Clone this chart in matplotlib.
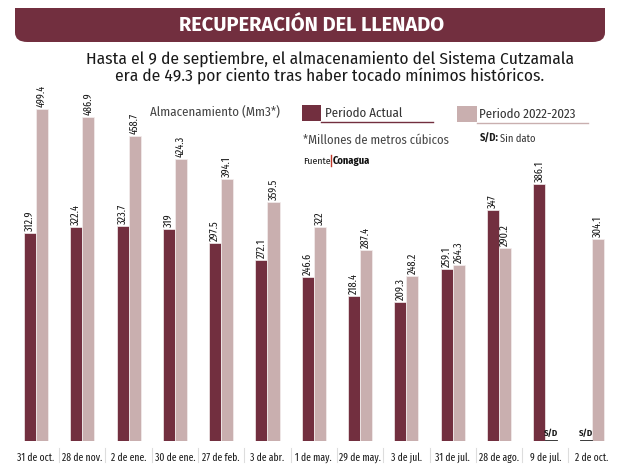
import matplotlib.pyplot as plt
import numpy as np
from matplotlib.patches import FancyBboxPatch, Rectangle
from matplotlib.lines import Line2D

fechas = ["31 de oct.", "28 de nov.", "2 de ene.", "30 de ene.", "27 de feb.",
          "3 de abr.", "1 de may.", "29 de may.", "3 de jul.", "31 de jul.",
          "28 de ago.", "9 de jul.", "2 de oct."]
actual = [312.9, 322.4, 323.7, 319, 297.5, 272.1, 246.6, 218.4, 209.3, 259.1,
          347, 386.1, None]
anterior = [499.4, 486.9, 458.7, 424.3, 394.1, 359.5, 322, 287.4, 248.2, 264.3,
            290.2, None, 304.1]

DARK = "#722f3f"
LIGHT = "#c9afaf"
FIRA = ["Fira Sans", "DejaVu Sans"]
COND = ["Fira Sans Condensed", "DejaVu Sans"]
XCOND = ["Fira Sans Extra Condensed", "DejaVu Sans"]


def fmt(v):
    return f"{v:g}"


def main():
    fig = plt.figure(figsize=(6.2, 4.72), dpi=100)
    W, H = 620, 472

    # header band (square top, rounded bottom)
    fig.patches.append(FancyBboxPatch((15 / W, 1 - 42 / H), 590 / W, 34 / H,
                                      boxstyle="round,pad=0,rounding_size=0.02",
                                      transform=fig.transFigure, fc=DARK, ec="none"))
    fig.patches.append(Rectangle((15 / W, 1 - 25 / H), 590 / W, 17 / H,
                                 transform=fig.transFigure, fc=DARK, ec="none"))
    fig.text(0.503, 1 - 25 / H, "RECUPERACIÓN DEL LLENADO", color="white",
             fontsize=14.5, fontweight="bold", ha="center", va="center", family=FIRA)

    fig.text(0.532, 1 - 67 / H,
             "Hasta el 9 de septiembre, el almacenamiento del Sistema Cutzamala\n"
             "era de 49.3 por ciento tras haber tocado mínimos históricos.",
             ha="center", va="center", fontsize=12.5, family=COND, linespacing=1.0,
             color="#1a1a1a")

    ax = fig.add_axes([12.8 / W, 1 - 441 / H, 602 / W, 345.8 / H])
    x = np.arange(len(fechas))
    w = 0.26
    for i in x:
        if actual[i] is not None:
            ax.bar(i - w / 2, actual[i], w, color=DARK, edgecolor="#f4eeee", lw=0.5)
            ax.text(i - w / 2, actual[i] + 3, fmt(actual[i]), rotation=90,
                    ha="center", va="bottom", fontsize=8, family=XCOND, color="#1a1a1a")
        else:
            ax.text(i - w / 2, 4, "S/D", ha="center", va="bottom", fontsize=6.5,
                    fontweight="bold", family=COND, color="#1a1a1a")
            ax.plot([i - w, i], [2, 2], color="#1a1a1a", lw=0.6)
        if anterior[i] is not None:
            ax.bar(i + w / 2, anterior[i], w, color=LIGHT, edgecolor="#f4eeee", lw=0.5)
            ax.text(i + w / 2, anterior[i] + 3, fmt(anterior[i]), rotation=90,
                    ha="center", va="bottom", fontsize=8, family=XCOND, color="#1a1a1a")
        else:
            ax.text(i + w / 2, 4, "S/D", ha="center", va="bottom", fontsize=6.5,
                    fontweight="bold", family=COND, color="#1a1a1a")
            ax.plot([i, i + w], [2, 2], color="#1a1a1a", lw=0.6)

    ax.set_xlim(-0.5, len(fechas) - 0.5)
    ax.set_ylim(0, 520)
    ax.set_xticks(x)
    ax.set_xticklabels(fechas, fontsize=7.5, family=XCOND, color="#1a1a1a")
    ax.tick_params(axis="x", length=0, pad=8)
    ax.set_yticks([])
    for s in ax.spines.values():
        s.set_visible(False)
    # separators between date labels
    for i in x[1:]:
        ax.add_line(Line2D([i - 0.5, i - 0.5], [-0.02, -0.062], color="#dddddd", lw=0.8,
                           transform=ax.get_xaxis_transform(), clip_on=False))

    # legend and notes
    fig.text(150 / W, 1 - 112 / H, "Almacenamiento (Mm3*)", fontsize=9.3,
             family=COND, color="#444444", va="center")
    fig.patches.append(Rectangle((302 / W, 1 - 121 / H), 19 / W, 16 / H,
                                 transform=fig.transFigure, fc=DARK, ec="none"))
    fig.lines.append(Line2D([321 / W, 433 / W], [1 - 122 / H, 1 - 122 / H],
                            transform=fig.transFigure, color=DARK, lw=1))
    fig.text(325 / W, 1 - 113 / H, "Periodo Actual", fontsize=9.3, family=COND,
             color="#333333", va="center")
    fig.patches.append(Rectangle((457 / W, 1 - 122 / H), 20 / W, 16 / H,
                                 transform=fig.transFigure, fc=LIGHT, ec="none"))
    fig.lines.append(Line2D([477 / W, 588 / W], [1 - 123 / H, 1 - 123 / H],
                            transform=fig.transFigure, color=LIGHT, lw=1))
    fig.text(479 / W, 1 - 114 / H, "Periodo 2022-2023", fontsize=9.3, family=COND,
             color="#333333", va="center")
    fig.text(303 / W, 1 - 140 / H, "*Millones de metros cúbicos", fontsize=9,
             family=COND, color="#444444", va="center")
    fig.text(480 / W, 1 - 139 / H, "S/D:", fontsize=7.5, fontweight="bold",
             family=COND, color="#1a1a1a", va="center")
    fig.text(500 / W, 1 - 139 / H, "Sin dato", fontsize=7.5, family=COND,
             color="#333333", va="center")
    fig.text(303 / W, 1 - 161 / H, "Fuente", fontsize=7, family=COND,
             color="#1a1a1a", va="center")
    fig.lines.append(Line2D([331 / W, 331 / W], [1 - 155 / H, 1 - 166 / H],
                            transform=fig.transFigure, color="#c0392b", lw=1))
    fig.text(333 / W, 1 - 161 / H, "Conagua", fontsize=7.5, fontweight="bold",
             family=COND, color="#111111", va="center")

    fig.savefig("out.png", dpi=100, facecolor="white")


if __name__ == "__main__":
    main()
